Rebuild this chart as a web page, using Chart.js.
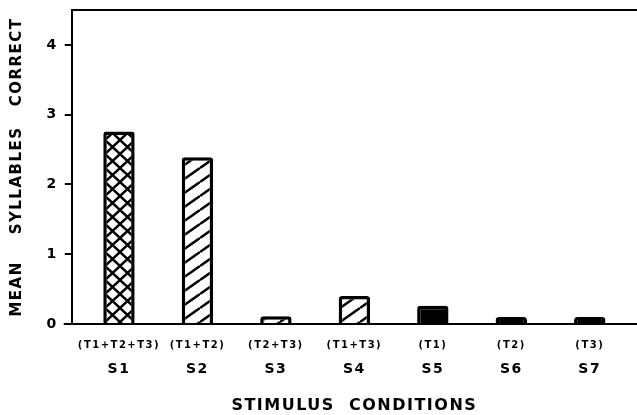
<!DOCTYPE html>
<html>
<head>
<meta charset="utf-8">
<script src="https://cdn.jsdelivr.net/npm/chart.js@4.4.1/dist/chart.umd.min.js"></script>
<style>
  html, body { margin: 0; padding: 0; background: #fff; }
  #wrap { width: 637px; height: 415px; }
</style>
</head>
<body>
<div id="wrap"><canvas id="barchart"></canvas></div>
<script>
const conditions = ['(T1+T2+T3)', '(T1+T2)', '(T2+T3)', '(T1+T3)', '(T1)', '(T2)', '(T3)'];
const stimulusLabels = ['S1', 'S2', 'S3', 'S4', 'S5', 'S6', 'S7'];
const meanCorrect = [2.76, 2.39, 0.11, 0.4, 0.26, 0.1, 0.1];
const yTicks = [0, 1, 2, 3, 4];
const fills = ['cross', 'diag', 'diag', 'diag', 'solid', 'solid', 'solid'];

// hatch patterns like the old scanned figure
function makePattern(kind) {
    const c = document.createElement('canvas');
    const x = c.getContext('2d');
    if (kind === 'solid') return '#000';
    if (kind === 'cross') {
        c.width = 15; c.height = 14;
        x.fillStyle = '#fff';
        x.fillRect(0, 0, 15, 14);
        x.strokeStyle = '#000';
        x.lineWidth = 2.5;
        x.beginPath();
        x.moveTo(0, 0); x.lineTo(15, 14);
        x.moveTo(15, 0); x.lineTo(0, 14);
        x.stroke();
    } else {
        const w = 20, h = 14;
        c.width = w; c.height = h;
        x.fillStyle = '#fff';
        x.fillRect(0, 0, w, h);
        x.strokeStyle = '#000';
        x.lineWidth = 2.5;
        x.beginPath();
        for (const dy of [-h, 0, h]) {
            x.moveTo(0, h + dy); x.lineTo(w, dy);
        }
        x.stroke();
    }
    return x.createPattern(c, 'repeat');
}

// categories sit a little in from the frame, like the original
const insetX = {
    id: 'insetX',
    afterLayout(chart) {
        for (const id of ['x', 'x2']) {
            const s = chart.scales[id];
            s.left += 8;
            s.right -= 8;
            s.configure();
        }
    }
};

// frame: top line and baseline run the full width
const frame = {
    id: 'frame',
    afterDraw(chart) {
        const { ctx, chartArea } = chart;
        ctx.save();
        ctx.strokeStyle = '#000';
        ctx.lineWidth = 2;
        ctx.beginPath();
        ctx.moveTo(chartArea.left, chartArea.top);
        ctx.lineTo(chart.width, chartArea.top);
        ctx.moveTo(chartArea.left - 8, chartArea.bottom);
        ctx.lineTo(chart.width, chartArea.bottom);
        ctx.stroke();
        ctx.restore();
    }
};

const spacing = {
    id: 'spacing',
    beforeInit(chart) { chart.ctx.letterSpacing = '1.5px'; },
    beforeDraw(chart) { chart.ctx.letterSpacing = '1.5px'; }
};

const ctx = document.getElementById('barchart');

new Chart(ctx, {
    type: 'bar',
    data: {
        labels: conditions,
        datasets: [{
            label: 'Mean syllables correct',
            data: meanCorrect,
            backgroundColor: fills.map(makePattern),
            borderColor: '#000',
            borderWidth: 3.5,
            borderRadius: 3,
            borderSkipped: 'bottom',
            barPercentage: 0.4,
            categoryPercentage: 1
        }]
    },
    plugins: [insetX, frame, spacing],
    options: {
        responsive: true,
        maintainAspectRatio: false,
        animation: false,
        layout: { padding: { top: 10, right: 0, left: 8, bottom: 0 } },
        plugins: {
            legend: { display: false },
            tooltip: { enabled: false }
        },
        scales: {
            x: {
                position: 'bottom',
                grid: { display: false, drawTicks: false },
                border: { color: '#000', width: 2 },
                ticks: {
                    color: '#000',
                    padding: 15,
                    maxRotation: 0,
                    font: { family: 'DejaVu Sans', size: 10, weight: 'bold' }
                },
                afterFit(scale) { scale.height = 30; }
            },
            x2: {
                position: 'bottom',
                type: 'category',
                labels: stimulusLabels,
                offset: true,
                grid: { display: false, drawTicks: false },
                border: { display: false },
                ticks: {
                    color: '#000',
                    padding: 7,
                    font: { family: 'DejaVu Sans', size: 14, weight: 'bold' }
                },
                title: {
                    display: true,
                    text: 'STIMULUS  CONDITIONS',
                    color: '#000',
                    padding: { top: 11, bottom: 0 },
                    font: { family: 'DejaVu Sans', size: 16, weight: 'bold' }
                }
            },
            y: {
                min: 0,
                max: 4.5,
                afterBuildTicks(axis) {
                    axis.ticks = yTicks.map(v => ({ value: v }));
                },
                afterFit(scale) {
                    scale.paddingTop = 0;
                    scale.paddingBottom = 0;
                },
                grid: {
                    drawOnChartArea: false,
                    color: '#000',
                    lineWidth: 2,
                    tickLength: 7
                },
                border: { color: '#000', width: 2 },
                ticks: {
                    color: '#000',
                    padding: 7,
                    font: { family: 'DejaVu Sans', size: 14, weight: 'bold' }
                },
                title: {
                    display: true,
                    text: 'MEAN    SYLLABLES   CORRECT',
                    color: '#000',
                    padding: { top: 0, bottom: 15 },
                    font: { family: 'DejaVu Sans', size: 15, weight: 'bold' }
                }
            }
        }
    }
});
</script>
</body>
</html>
